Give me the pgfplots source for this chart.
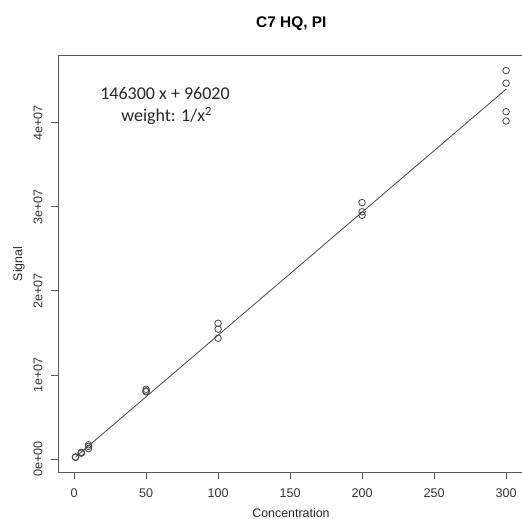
\documentclass[border=0pt]{standalone}
\usepackage{pgfplots}
\pgfplotsset{compat=1.18}
\usepackage{fontspec}
\setmainfont{Liberation Sans}
\newfontfamily\calib{Carlito}
\definecolor{axgray}{gray}{0.35}
\definecolor{ptgray}{gray}{0.28}
\begin{document}
\begin{tikzpicture}[x=1pt,y=1pt]
\path[use as bounding box] (0,0) rectangle (522,519);
\begin{axis}[
  at={(58.3pt,46.5pt)}, anchor=south west,
  scale only axis, width=465pt, height=417.4pt,
  xmin=-10.96, xmax=311.96, ymin=-1.6e6, ymax=48.04e6,
  xtick={0,50,100,150,200,250,300},
  ytick={0,1e7,2e7,3e7,4e7},
  yticklabels={0e+00,1e+07,2e+07,3e+07,4e+07},
  scaled y ticks=false,
  tick align=outside, tick pos=left,
  major tick length=7pt,
  axis line style={axgray, line width=0.9pt},
  every tick/.style={axgray, line width=0.9pt},
  tick label style={font=\fontsize{12.6}{14}\selectfont, text=black!80},
  /pgf/number format/assume math mode=true,
  xticklabel style={inner sep=0pt, anchor=north, yshift=-9pt},
  yticklabel style={xshift=-8.6pt, rotate=90, anchor=south, inner sep=0pt},
  clip=false
]
\addplot[only marks, mark=o, mark size=3.3pt, mark options={ptgray, line width=0.8pt}] coordinates {
  (1,0.20e6) (1,0.25e6)
  (5,0.70e6) (5,0.75e6) (5,0.80e6)
  (10,1.25e6) (10,1.50e6) (10,1.70e6)
  (50,8.0e6) (50,8.1e6) (50,8.3e6)
  (100,14.37e6) (100,15.44e6) (100,16.15e6)
  (200,29.0e6) (200,29.4e6) (200,30.5e6)
  (300,40.2e6) (300,41.3e6) (300,44.7e6) (300,46.2e6)
};
\addplot[no marks, ptgray, line width=0.8pt] coordinates {(1,242320) (300,43986020)};
\end{axis}
\node[anchor=base, inner sep=0pt, font=\bfseries\fontsize{15.4}{17}\selectfont] at (291.3,491.3) {C7 HQ, PI};
\node[anchor=base, inner sep=0pt, font=\fontsize{12.4}{14}\selectfont, text=black!85] at (291,1.3) {Concentration};
\node[anchor=base, inner sep=0pt, rotate=90, font=\fontsize{12.4}{14}\selectfont, text=black!85] at (22.2,255) {Signal};
\node[anchor=base, inner sep=0pt, font=\calib\fontsize{18}{20}\selectfont, text=black!85] at (165,419) {146300 x + 96020};
\node[anchor=base, inner sep=0pt, font=\calib\fontsize{18}{20}\selectfont, text=black!85] at (166.7,397.3) {weight: 1/x\textsuperscript{2}};
\end{tikzpicture}
\end{document}
